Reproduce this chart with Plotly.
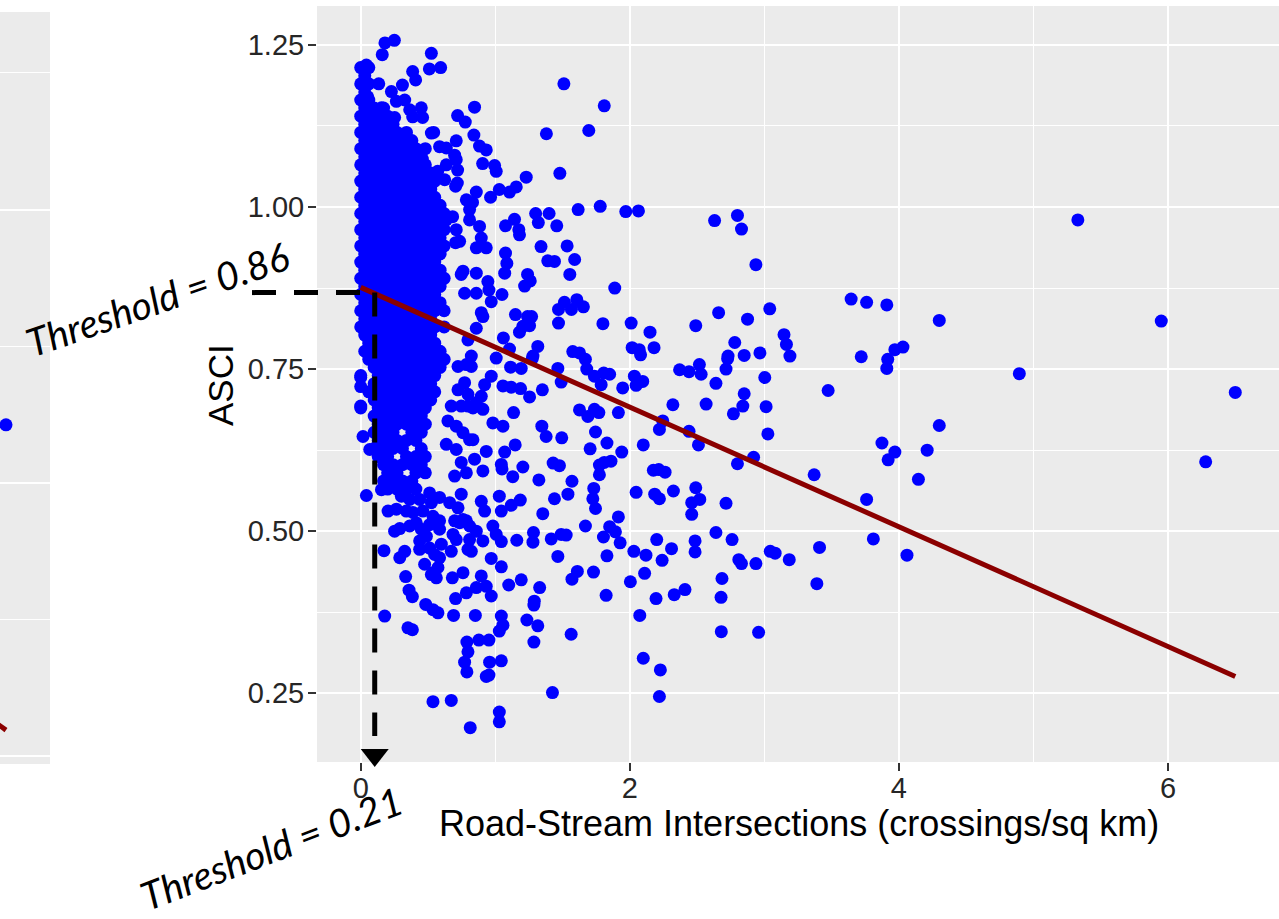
import plotly.graph_objects as go

# ---------------- data ----------------
# dense core of the scatter: rows of (ASCI, [crossings...])
dense_rows = [
    (1.215, [0.0, 0.06]),
    (1.2025, [0.03]),
    (1.19, [0.0, 0.06]),
    (1.1775, [0.03]),
    (1.165, [0.0, 0.06]),
    (1.1525, [0.03, 0.10, 0.17]),
    (1.14, [0.0, 0.06, 0.13, 0.20]),
    (1.1275, [0.03, 0.10, 0.17, 0.24]),
    (1.115, [0.0, 0.06, 0.13, 0.20, 0.27, 0.34]),
    (1.1025, [0.03, 0.10, 0.17, 0.24, 0.31, 0.38]),
    (1.09, [0.0, 0.06, 0.13, 0.20, 0.27, 0.34, 0.41, 0.48]),
    (1.0775, [0.03, 0.10, 0.17, 0.24, 0.31, 0.38, 0.45]),
    (1.065, [0.0, 0.06, 0.13, 0.20, 0.27, 0.34, 0.41, 0.48]),
    (1.0525, [0.03, 0.10, 0.17, 0.24, 0.31, 0.38, 0.45, 0.52]),
    (1.04, [0.0, 0.06, 0.13, 0.20, 0.27, 0.34, 0.41, 0.48, 0.55]),
    (1.0275, [0.03, 0.10, 0.17, 0.24, 0.31, 0.38, 0.45, 0.52]),
    (1.015, [0.0, 0.06, 0.13, 0.20, 0.27, 0.34, 0.41, 0.48, 0.55]),
    (1.0025, [0.03, 0.10, 0.17, 0.24, 0.31, 0.38, 0.45, 0.52, 0.59]),
    (0.99, [0.0, 0.06, 0.13, 0.20, 0.27, 0.34, 0.41, 0.48, 0.55, 0.62]),
    (0.9775, [0.03, 0.10, 0.17, 0.24, 0.31, 0.38, 0.45, 0.52, 0.59]),
    (0.965, [0.0, 0.06, 0.13, 0.20, 0.27, 0.34, 0.41, 0.48, 0.55, 0.62]),
    (0.9525, [0.03, 0.10, 0.17, 0.24, 0.31, 0.38, 0.45, 0.52, 0.59]),
    (0.94, [0.0, 0.06, 0.13, 0.20, 0.27, 0.34, 0.41, 0.48, 0.55, 0.62]),
    (0.9275, [0.03, 0.10, 0.17, 0.24, 0.31, 0.38, 0.45, 0.52, 0.59]),
    (0.915, [0.0, 0.06, 0.13, 0.20, 0.27, 0.34, 0.41, 0.48, 0.55]),
    (0.9025, [0.03, 0.10, 0.17, 0.24, 0.31, 0.38, 0.45, 0.52, 0.59]),
    (0.89, [0.0, 0.06, 0.13, 0.20, 0.27, 0.34, 0.41, 0.48, 0.55, 0.62]),
    (0.8775, [0.03, 0.10, 0.17, 0.24, 0.31, 0.38, 0.45, 0.52, 0.59]),
    (0.865, [0.0, 0.06, 0.13, 0.20, 0.27, 0.34, 0.41, 0.48, 0.55]),
    (0.8525, [0.03, 0.10, 0.17, 0.24, 0.31, 0.38, 0.45, 0.52, 0.59]),
    (0.84, [0.0, 0.06, 0.13, 0.20, 0.27, 0.34, 0.41, 0.48, 0.55, 0.62]),
    (0.8275, [0.03, 0.10, 0.17, 0.24, 0.31, 0.38, 0.45, 0.52]),
    (0.815, [0.0, 0.06, 0.13, 0.20, 0.27, 0.34, 0.41, 0.48, 0.55, 0.62]),
    (0.8025, [0.03, 0.10, 0.17, 0.24, 0.31, 0.38, 0.45, 0.52]),
    (0.79, [0.06, 0.13, 0.20, 0.27, 0.34, 0.41, 0.48, 0.55]),
    (0.7775, [0.03, 0.10, 0.17, 0.24, 0.31, 0.38, 0.45, 0.52, 0.59]),
    (0.765, [0.06, 0.13, 0.20, 0.27, 0.34, 0.41, 0.48, 0.55, 0.62]),
    (0.7525, [0.10, 0.17, 0.24, 0.31, 0.38, 0.45, 0.52, 0.59]),
    (0.74, [0.0, 0.13, 0.20, 0.27, 0.34, 0.41, 0.48, 0.55]),
    (0.7275, [0.10, 0.17, 0.24, 0.31, 0.38, 0.45, 0.52]),
    (0.715, [0.06, 0.13, 0.20, 0.27, 0.34, 0.41, 0.48, 0.55]),
    (0.7025, [0.10, 0.17, 0.24, 0.31, 0.38, 0.45, 0.52]),
    (0.69, [0.0, 0.13, 0.20, 0.27, 0.34, 0.41, 0.48]),
    (0.6775, [0.10, 0.17, 0.24, 0.31, 0.38, 0.45]),
    (0.665, [0.13, 0.20, 0.27, 0.34, 0.41, 0.48]),
    (0.6525, [0.10, 0.17, 0.24, 0.38, 0.45]),
    (0.64, [0.13, 0.20, 0.27, 0.34, 0.41]),
    (0.6275, [0.10, 0.17, 0.24, 0.31, 0.45]),
    (0.615, [0.13, 0.20, 0.34, 0.41, 0.48]),
    (0.6025, [0.17, 0.24, 0.31, 0.38, 0.45]),
    (0.59, [0.20, 0.27, 0.41, 0.48]),
    (0.5775, [0.17, 0.24, 0.31, 0.38]),
    (0.565, [0.20, 0.27, 0.34, 0.41]),
]

# individually read points near the dense core (x < ~1)
near_pts = [
    (0.25, 1.257), (0.18, 1.253), (0.16, 1.235), (0.525, 1.237), (0.51, 1.213), (0.594, 1.215),
    (0.042, 1.219), (0.386, 1.209), (0.408, 1.196), (0.134, 1.19), (0.31, 1.188), (0.228, 1.178),
    (0.052, 1.17), (0.045, 1.161), (0.265, 1.163), (0.327, 1.165), (0.154, 1.153), (0.089, 1.15),
    (0.45, 1.153), (0.846, 1.154), (0.72, 1.141), (0.777, 1.131), (0.252, 1.138), (0.364, 1.15),
    (0.386, 1.139), (0.46, 1.138), (0.525, 1.114), (0.542, 1.115), (0.71, 1.102), (0.841, 1.111),
    (0.883, 1.094), (0.933, 1.088), (0.586, 1.093), (0.636, 1.091), (0.698, 1.08), (0.71, 1.073),
    (0.364, 1.093), (0.43, 1.086), (0.458, 1.074), (0.906, 1.067), (0.995, 1.064), (1.007, 1.055),
    (0.636, 1.065), (0.72, 1.057), (0.572, 1.055), (0.624, 1.042), (0.718, 1.037), (0.705, 1.032),
    (0.859, 1.023), (0.785, 1.011), (0.831, 1.007), (0.809, 0.996), (0.965, 1.015), (0.488, 1.022),
    (0.512, 1.007), (0.46, 1.011), (0.683, 0.985), (0.636, 0.98), (0.71, 0.965), (0.809, 0.98),
    (0.883, 0.97), (0.896, 0.952), (0.859, 0.937), (0.933, 0.937),
    (0.705, 0.945), (0.735, 0.947), (0.747, 0.896), (0.76, 0.901), (0.859, 0.898), (0.945, 0.885),
    (0.953, 0.872), (0.97, 0.854), (0.772, 0.867), (0.859, 0.867), (0.896, 0.837), (0.908, 0.831),
    (0.797, 0.795), (0.859, 0.813), (0.822, 0.77), (1.007, 0.767), (0.97, 0.739), (0.921, 0.726),
    (0.896, 0.708), (0.859, 0.698), (0.908, 0.688), (0.834, 0.69), (0.723, 0.754), (0.785, 0.757),
    (0.822, 0.754), (0.772, 0.729), (0.797, 0.711), (0.723, 0.718), (0.673, 0.693), (0.747, 0.693),
    (0.797, 0.693), (0.982, 0.667), (0.933, 0.623), (0.908, 0.593), (0.648, 0.67), (0.71, 0.662),
    (0.76, 0.652), (0.809, 0.641), (0.834, 0.641), (0.636, 0.634), (0.71, 0.626), (0.747, 0.606),
    (0.846, 0.611), (0.785, 0.59), (0.698, 0.585),
    (0.0, 0.737), (0.0, 0.723), (0.0, 0.693), (0.017, 0.646), (0.067, 0.626),
    (0.042, 0.555), (0.154, 0.564), (0.203, 0.531), (0.252, 0.5), (0.29, 0.504), (0.173, 0.47),
    (0.29, 0.459), (0.327, 0.469), (0.334, 0.43), (0.359, 0.409), (0.384, 0.399), (0.178, 0.369),
    (0.351, 0.351), (0.384, 0.348), (0.483, 0.387), (0.537, 0.379), (0.574, 0.374), (0.69, 0.37),
    (0.852, 0.37), (0.878, 0.332), (0.953, 0.332), (0.789, 0.329), (0.797, 0.314), (0.772, 0.298),
    (0.789, 0.283), (0.958, 0.298), (0.933, 0.276), (0.953, 0.278), (0.537, 0.237), (0.673, 0.239),
    (0.814, 0.197), (0.681, 0.428), (0.76, 0.436), (0.896, 0.431), (0.933, 0.415), (0.859, 0.413),
    (0.785, 0.405), (0.705, 0.396), (0.97, 0.4), (0.97, 0.458), (0.475, 0.449), (0.525, 0.433),
    (0.574, 0.444), (0.537, 0.436), (0.562, 0.428), (0.438, 0.472), (0.512, 0.474), (0.549, 0.464),
    (0.586, 0.459), (0.673, 0.469), (0.599, 0.48), (0.797, 0.472), (0.822, 0.469), (0.908, 0.485),
    (0.686, 0.495), (0.735, 0.513), (0.785, 0.516), (0.809, 0.508), (0.859, 0.5), (0.809, 0.487),
    (0.71, 0.487), (0.982, 0.508), (1.007, 0.495), (0.896, 0.546), (0.921, 0.531), (1.03, 0.554),
    (0.747, 0.557), (0.723, 0.536), (0.661, 0.544), (0.586, 0.552), (0.512, 0.559), (0.698, 0.516),
    (0.76, 0.518), (0.302, 0.554), (0.364, 0.549), (0.265, 0.534), (0.339, 0.531), (0.388, 0.529),
    (0.413, 0.513), (0.364, 0.508), (0.45, 0.503), (0.438, 0.485), (0.488, 0.492), (0.537, 0.523),
    (0.586, 0.516), (0.586, 0.503), (0.512, 0.51), (0.462, 0.531), (0.525, 0.544), (0.438, 0.549),
]

# individually read points further out (x > ~1)
far_pts = [
    (1.51, 1.19), (1.81, 1.156), (1.38, 1.113), (1.695, 1.118), (1.23, 1.046), (1.48, 1.052),
    (1.156, 1.031), (1.106, 1.023), (1.03, 1.027), (1.616, 0.996), (1.78, 1.001), (1.97, 0.993),
    (2.064, 0.994), (2.63, 0.979), (2.80, 0.987), (2.83, 0.966), (1.143, 0.981), (1.076, 0.971),
    (1.30, 0.99), (1.32, 0.976), (1.40, 0.99), (1.175, 0.965), (1.18, 0.957), (1.457, 0.971),
    (1.34, 0.939), (1.534, 0.94), (1.39, 0.917), (1.44, 0.916), (1.59, 0.919), (1.554, 0.896),
    (1.076, 0.929), (1.086, 0.913), (1.07, 0.898), (1.24, 0.896), (1.26, 0.886), (1.218, 0.878),
    (1.05, 0.865), (1.888, 0.875), (1.15, 0.834), (1.24, 0.831), (1.27, 0.831), (1.205, 0.816),
    (1.255, 0.817), (1.18, 0.807), (1.47, 0.842), (1.514, 0.853), (1.606, 0.857), (1.566, 0.842),
    (1.655, 0.846), (1.47, 0.821), (1.80, 0.82), (2.01, 0.821), (2.15, 0.807), (2.49, 0.817),
    (2.66, 0.837), (2.78, 0.791), (2.875, 0.827), (1.06, 0.798), (1.316, 0.785), (1.28, 0.77),
    (1.576, 0.777), (1.626, 0.775), (2.017, 0.783), (2.07, 0.78), (2.08, 0.772), (2.18, 0.783),
    (2.73, 0.77), (2.85, 0.771), (1.106, 0.781),
    (1.114, 0.753), (1.193, 0.751), (1.465, 0.751), (1.275, 0.766), (1.49, 0.73), (1.057, 0.724),
    (1.119, 0.722), (1.188, 0.72), (1.35, 0.718), (1.255, 0.707), (1.67, 0.765), (1.68, 0.75),
    (1.737, 0.739), (1.806, 0.744), (1.85, 0.742), (1.787, 0.726), (1.947, 0.721), (2.034, 0.739),
    (2.047, 0.725), (2.096, 0.731), (2.37, 0.749), (2.44, 0.746), (2.517, 0.757), (2.53, 0.742),
    (2.64, 0.728), (2.715, 0.75), (2.727, 0.766), (2.85, 0.712), (2.84, 0.693), (2.77, 0.681),
    (2.567, 0.696), (2.32, 0.695), (2.245, 0.67), (2.22, 0.657), (2.44, 0.654), (2.51, 0.633),
    (2.10, 0.633), (2.80, 0.604), (1.626, 0.687), (1.688, 0.677), (1.737, 0.688), (1.77, 0.683),
    (1.915, 0.683), (1.136, 0.683), (1.057, 0.662), (1.346, 0.662), (1.378, 0.646), (1.494, 0.644),
    (1.745, 0.653), (1.83, 0.636), (1.705, 0.627), (1.94, 0.622), (1.148, 0.633), (1.07, 0.622),
    (1.045, 0.603), (1.05, 0.596), (1.205, 0.599), (1.13, 0.584), (1.43, 0.605), (1.477, 0.601),
    (1.324, 0.579), (1.57, 0.577), (1.54, 0.557), (1.44, 0.55), (1.774, 0.602), (1.81, 0.606),
    (1.86, 0.608), (1.774, 0.587), (1.732, 0.566), (1.725, 0.55), (1.745, 0.535), (2.175, 0.594),
    (2.215, 0.595), (2.262, 0.591), (2.047, 0.56), (2.185, 0.557), (2.22, 0.55), (2.324, 0.562),
    (2.49, 0.567), (2.52, 0.549), (2.46, 0.544), (2.46, 0.526), (2.715, 0.543), (1.353, 0.527),
    (1.119, 0.54), (1.186, 0.548), (1.045, 0.531), (1.915, 0.522), (1.67, 0.508), (1.85, 0.507),
    (1.893, 0.499), (1.284, 0.498), (1.28, 0.483), (1.416, 0.488), (1.49, 0.495), (1.527, 0.494),
    (1.16, 0.486), (1.045, 0.484), (1.804, 0.491), (1.928, 0.482), (2.20, 0.487), (2.31, 0.473),
    (2.03, 0.469), (2.12, 0.463), (2.24, 0.455), (2.485, 0.485), (2.485, 0.468), (2.64, 0.498),
    (2.76, 0.487), (2.81, 0.456), (2.83, 0.45), (1.83, 0.462), (1.465, 0.461), (1.045, 0.445),
    (1.61, 0.438), (1.57, 0.426), (1.73, 0.437), (2.11, 0.435), (2.004, 0.422), (1.193, 0.425),
    (1.10, 0.417), (1.33, 0.413), (1.29, 0.392), (1.287, 0.386), (1.824, 0.401), (2.195, 0.396),
    (2.33, 0.402), (2.41, 0.41), (2.685, 0.427), (2.678, 0.398), (1.235, 0.363), (1.316, 0.354),
    (1.045, 0.369), (1.057, 0.355), (1.03, 0.346), (1.287, 0.329), (1.564, 0.341), (2.074, 0.37),
    (2.68, 0.345), (1.045, 0.3), (2.10, 0.304), (2.227, 0.286), (1.425, 0.251), (2.22, 0.245),
    (1.03, 0.221), (1.03, 0.206),
    (5.33, 0.98), (2.937, 0.911), (3.645, 0.858), (3.76, 0.853), (3.91, 0.849), (3.04, 0.843),
    (4.30, 0.825), (5.95, 0.824), (3.146, 0.803), (3.164, 0.788), (3.19, 0.77), (2.967, 0.775),
    (3.72, 0.769), (3.97, 0.78), (4.03, 0.784), (3.917, 0.765), (3.91, 0.751), (3.003, 0.737),
    (3.474, 0.717), (4.895, 0.743), (6.50, 0.714), (3.013, 0.692), (3.026, 0.65), (4.30, 0.663),
    (3.874, 0.636), (3.97, 0.622), (3.92, 0.61), (4.21, 0.625), (6.28, 0.607), (2.92, 0.614),
    (3.37, 0.587), (4.145, 0.58), (3.76, 0.549),
    (3.81, 0.488), (4.06, 0.463), (3.41, 0.475), (3.39, 0.419), (3.044, 0.469), (3.08, 0.466),
    (3.185, 0.456), (2.937, 0.45), (2.957, 0.344),
]

# fitted regression line
fit_x = [0.0, 6.5]
fit_y = [0.876, 0.276]

# threshold guide positions (as drawn)
thr_asci = 0.868
thr_cross = 0.104
threshold_labels = ["Threshold = 0.86", "Threshold = 0.21"]

# neighbouring (cropped) panel on the far left
left_x = [0.12]
left_y = [0.553]
left_fit_x = [-0.1, 0.12]
left_fit_y = [0.281, 0.2737]

x_ticks = [0, 2, 4, 6]
x_minor = [1, 3, 5]
y_ticks = [0.25, 0.50, 0.75, 1.00, 1.25]
y_tick_text = ["0.25", "0.50", "0.75", "1.00", "1.25"]
y_minor = [0.375, 0.625, 0.875, 1.125]
x_title = "Road-Stream Intersections (crossings/sq km)"
y_title = "ASCI"

# ---------------- build ----------------
W, H = 1279, 919
xs, ys = [], []
for yv, row in dense_rows:
    for xv in row:
        xs.append(xv)
        ys.append(yv)
for xv, yv in near_pts + far_pts:
    xs.append(xv)
    ys.append(yv)

x_dom = [317 / W, 1.0]
y_dom = [1 - 762 / H, 1 - 6 / H]
x_rng = [-0.325, 6.825]
y_rng = [0.144, 1.31]


def x_to_paper(v):
    return x_dom[0] + (v - x_rng[0]) / (x_rng[1] - x_rng[0]) * (x_dom[1] - x_dom[0])


MS = 13
fig = go.Figure()
fig.add_trace(go.Scatter(x=xs, y=ys, mode="markers",
                         marker=dict(color="#0000FF", size=MS, line=dict(width=0)),
                         hoverinfo="skip", showlegend=False))
fig.add_trace(go.Scatter(x=fit_x, y=fit_y, mode="lines",
                         line=dict(color="#8B0000", width=5),
                         hoverinfo="skip", showlegend=False))
fig.add_trace(go.Scatter(x=left_x, y=left_y, mode="markers", xaxis="x2", yaxis="y2",
                         marker=dict(color="#0000FF", size=MS, line=dict(width=0)),
                         hoverinfo="skip", showlegend=False))
fig.add_trace(go.Scatter(x=left_fit_x, y=left_fit_y, mode="lines", xaxis="x2", yaxis="y2",
                         line=dict(color="#8B0000", width=5),
                         hoverinfo="skip", showlegend=False))

tickfont = dict(family="Liberation Sans, Arial, sans-serif", size=29, color="#262626")
fig.update_layout(
    width=W, height=H,
    margin=dict(l=0, r=0, t=0, b=0),
    paper_bgcolor="white", plot_bgcolor="#EBEBEB",
    showlegend=False,
    xaxis=dict(domain=x_dom, range=x_rng, tickmode="array", tickvals=x_ticks,
               ticks="outside", ticklen=8, tickwidth=2, tickcolor="#333333",
               tickfont=tickfont, ticklabelstandoff=-8,
               showgrid=True, gridcolor="white", gridwidth=2,
               minor=dict(tickmode="array", tickvals=x_minor, showgrid=True,
                          gridcolor="white", gridwidth=1),
               zeroline=False, showline=False, anchor="y"),
    yaxis=dict(domain=y_dom, range=y_rng, tickmode="array", tickvals=y_ticks,
               ticktext=y_tick_text,
               ticks="outside", ticklen=8, tickwidth=2, tickcolor="#333333",
               tickfont=tickfont, ticklabelstandoff=-2,
               showgrid=True, gridcolor="white", gridwidth=2,
               minor=dict(tickmode="array", tickvals=y_minor, showgrid=True,
                          gridcolor="white", gridwidth=1),
               zeroline=False, showline=False, anchor="x"),
    xaxis2=dict(domain=[0, 50 / W], range=[0, 1], showgrid=False, zeroline=False,
                showticklabels=False, ticks="", anchor="y2"),
    yaxis2=dict(domain=[1 - 764 / H, 1 - 12 / H], range=[0.2427, 0.9307],
                tickmode="array", tickvals=[0.25, 0.5, 0.75], showticklabels=False, ticks="",
                showgrid=True, gridcolor="white", gridwidth=2,
                minor=dict(tickmode="array", tickvals=[0.375, 0.625, 0.875], showgrid=True,
                           gridcolor="white", gridwidth=1),
                zeroline=False, anchor="x2"),
)

# axis titles
fig.add_annotation(text=x_title, xref="paper", yref="paper", x=799 / W, y=1 - 823 / H,
                   xanchor="center", yanchor="middle", showarrow=False,
                   font=dict(family="Liberation Sans, Arial, sans-serif", size=36, color="black"))
fig.add_annotation(text=y_title, xref="paper", yref="paper", x=220 / W, y=1 - 385 / H,
                   xanchor="center", yanchor="middle", showarrow=False, textangle=-90,
                   font=dict(family="Liberation Sans, Arial, sans-serif", size=35, color="black"))

# threshold labels
thr_font = dict(family="Lato, sans-serif", size=39, color="black", style="italic")
fig.add_annotation(text=threshold_labels[0], xref="paper", yref="paper", x=157 / W, y=1 - 299 / H,
                   xanchor="center", yanchor="middle", showarrow=False, textangle=-19, font=thr_font)
fig.add_annotation(text=threshold_labels[1], xref="paper", yref="paper", x=271 / W, y=1 - 848 / H,
                   xanchor="center", yanchor="middle", showarrow=False, textangle=-21, font=thr_font)

# dashed threshold guides + arrow head
dash = dict(color="black", width=5, dash="24px,18px")
fig.add_shape(type="line", xref="paper", yref="y", x0=252 / W, x1=x_to_paper(thr_cross),
              y0=thr_asci, y1=thr_asci, line=dash, layer="above")
fig.add_shape(type="line", xref="x", yref="y", x0=thr_cross, x1=thr_cross,
              y0=thr_asci, y1=0.184, line=dash, layer="above")
hw = 14 / 134.5
ytop = 1 - 749 / H
ytip = 1 - 767 / H
fig.add_shape(type="path", xref="x", yref="paper",
              path=f"M {thr_cross - hw},{ytop} L {thr_cross + hw},{ytop} L {thr_cross},{ytip} Z",
              fillcolor="black", line=dict(width=0), layer="above")

fig.write_html("out.html", config={"displayModeBar": False},
               post_script="document.body.style.margin='0px';")
